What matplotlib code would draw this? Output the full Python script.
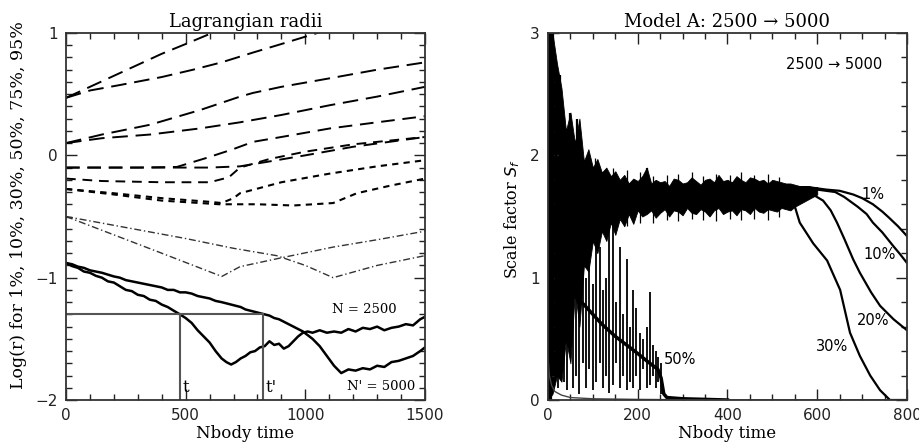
import numpy as np
import matplotlib.pyplot as plt
from matplotlib.ticker import MultipleLocator

# ---- left panel: Lagrangian radii (log r) ----
r95a_t = [0, 100, 200, 300, 400, 500, 610, 700]
r95a = [0.47, 0.56, 0.65, 0.74, 0.83, 0.91, 1.0, 1.07]
r95b_t = [0, 100, 226, 400, 531, 650, 781, 900, 1000, 1100]
r95b = [0.47, 0.53, 0.575, 0.64, 0.70, 0.76, 0.84, 0.91, 0.97, 1.03]
r75a_t = [0, 150, 351, 560, 727, 781, 900, 1103, 1300, 1500]
r75a = [0.10, 0.17, 0.25, 0.37, 0.48, 0.51, 0.56, 0.63, 0.70, 0.76]
r75b_t = [0, 150, 351, 560, 727, 900, 1103, 1300, 1500]
r75b = [0.10, 0.14, 0.17, 0.22, 0.27, 0.33, 0.41, 0.48, 0.56]
r50a_t = [0, 300, 463, 589, 698, 781, 900, 1103, 1300, 1500]
r50a = [-0.10, -0.10, -0.095, -0.02, 0.05, 0.11, 0.15, 0.22, 0.27, 0.32]
r50b_t = [0, 400, 600, 727, 850, 1000, 1200, 1500]
r50b = [-0.10, -0.10, -0.10, -0.09, -0.05, 0.0, 0.07, 0.15]
r30a_t = [0, 150, 400, 600, 680, 727, 850, 1000, 1200, 1500]
r30a = [-0.19, -0.21, -0.22, -0.22, -0.18, -0.10, -0.03, 0.03, 0.09, 0.15]
r30b_t = [0, 200, 400, 600, 650, 700, 727, 900, 1100, 1300, 1500]
r30b = [-0.275, -0.31, -0.35, -0.38, -0.39, -0.35, -0.31, -0.22, -0.15, -0.09, -0.04]
r30c_t = [0, 200, 400, 640, 800, 950, 1116, 1215, 1350, 1500]
r30c = [-0.275, -0.32, -0.37, -0.40, -0.40, -0.41, -0.39, -0.31, -0.25, -0.19]
r10a_t = [0, 200, 400, 651, 727, 894, 1116, 1300, 1500]
r10a = [-0.50, -0.65, -0.80, -0.99, -0.91, -0.84, -0.75, -0.69, -0.62]
r10b_t = [0, 250, 500, 700, 880, 1000, 1116, 1300, 1500]
r10b = [-0.50, -0.59, -0.68, -0.76, -0.82, -0.90, -1.00, -0.90, -0.82]

r1_t = [0, 25, 50, 75, 100, 125, 150, 175, 200, 225, 250, 275, 300, 325, 350,
        375, 400, 425, 450, 476, 500, 525, 550, 575, 600, 625, 650, 670, 690,
        710, 730, 750, 770, 790, 810, 830, 850, 870, 890, 910, 930, 950, 970,
        990, 1010, 1030, 1060, 1090, 1120, 1150, 1180, 1210, 1240, 1270, 1300,
        1330, 1360, 1390, 1420, 1450, 1480, 1500]
r1_n2500 = [-0.88, -0.905, -0.92, -0.95, -0.96, -0.985, -1.0, -1.03, -1.04,
            -1.07, -1.10, -1.11, -1.14, -1.15, -1.18, -1.19, -1.22, -1.24,
            -1.27, -1.30, -1.33, -1.37, -1.43, -1.48, -1.53, -1.60, -1.66,
            -1.69, -1.71, -1.69, -1.66, -1.64, -1.61, -1.60, -1.57, -1.56,
            -1.52, -1.55, -1.54, -1.58, -1.56, -1.52, -1.48, -1.45, -1.44,
            -1.45, -1.43, -1.45, -1.44, -1.45, -1.42, -1.44, -1.41, -1.42,
            -1.40, -1.43, -1.41, -1.40, -1.38, -1.39, -1.34, -1.32]
r1_n5000 = [-0.88, -0.89, -0.91, -0.92, -0.94, -0.95, -0.96, -0.975, -0.99,
            -1.00, -1.02, -1.03, -1.04, -1.05, -1.06, -1.07, -1.08, -1.10,
            -1.10, -1.12, -1.12, -1.13, -1.15, -1.16, -1.17, -1.19, -1.20,
            -1.21, -1.22, -1.23, -1.24, -1.26, -1.27, -1.28, -1.29, -1.30,
            -1.31, -1.33, -1.34, -1.36, -1.38, -1.40, -1.42, -1.44, -1.47,
            -1.50, -1.56, -1.64, -1.72, -1.78, -1.75, -1.76, -1.74, -1.75,
            -1.72, -1.73, -1.69, -1.68, -1.66, -1.64, -1.60, -1.57]

r_cut = -1.3
t_cut = 476
t_cut2 = 823

# ---- right panel: scale factor ----
band_t = list(range(0, 610, 10))
band_hi = [3.0, 3.0, 2.75, 2.55, 2.2, 2.35, 2.1, 2.3, 1.95, 2.05, 1.9, 1.97,
           1.86, 1.9, 1.83, 1.87, 1.8, 1.84, 1.77, 1.81, 1.79, 1.83, 1.9, 1.77,
           1.8, 1.78, 1.79, 1.75, 1.81, 1.8, 1.77, 1.78, 1.82, 1.79, 1.76, 1.8,
           1.81, 1.78, 1.84, 1.79, 1.8, 1.78, 1.83, 1.8, 1.78, 1.82, 1.81, 1.79,
           1.8, 1.77, 1.8, 1.79, 1.78, 1.77, 1.77, 1.76, 1.75, 1.75, 1.75,
           1.74, 1.74]
band_lo = [0.0, 0.05, 0.2, 0.15, 0.5, 0.3, 0.9, 0.6, 1.1, 1.05, 1.3, 1.2,
           1.38, 1.3, 1.45, 1.35, 1.48, 1.42, 1.52, 1.44, 1.55, 1.5, 1.52, 1.55,
           1.49, 1.53, 1.56, 1.5, 1.55, 1.54, 1.51, 1.57, 1.53, 1.52, 1.56,
           1.54, 1.5, 1.55, 1.57, 1.52, 1.54, 1.55, 1.51, 1.56, 1.55, 1.52,
           1.57, 1.54, 1.53, 1.56, 1.55, 1.54, 1.57, 1.56, 1.55, 1.58, 1.6,
           1.62, 1.64, 1.66, 1.68]
bspike_t = [3, 7, 12, 18, 27, 49, 64, 78, 94, 131, 220]
bspike_hi = [3.0, 3.0, 3.0, 2.75, 2.66, 2.35, 2.3, 1.98, 1.9, 1.84, 1.9]
bspike_lo = [0.0, 0.0, 0.2, 0.5, 0.8, 1.0, 1.2, 1.3, 1.4, 1.5, 1.6]
fuzz_t = [105, 145, 175, 205, 235, 265, 290, 320, 345, 375, 405, 430, 460,
          490, 515]
fuzz_hi = [1.98, 1.9, 1.88, 1.86, 1.83, 1.84, 1.85, 1.86, 1.83, 1.85, 1.84,
           1.86, 1.84, 1.85, 1.82]
fuzz_lo = [1.3, 1.4, 1.42, 1.45, 1.45, 1.47, 1.46, 1.48, 1.47, 1.46, 1.48,
           1.47, 1.48, 1.47, 1.5]

s50_t = [15, 20, 30, 40, 50, 60, 80, 100, 120, 150, 175, 200, 220, 245, 252,
         258, 265, 300, 400]
s50 = [1.5, 1.3, 1.15, 1.05, 0.95, 0.85, 0.78, 0.7, 0.62, 0.52, 0.45, 0.38,
       0.32, 0.25, 0.18, 0.05, 0.02, 0.01, 0.0]
spike_t = [22, 28, 35, 42, 48, 55, 62, 70, 77, 85, 92, 100, 108, 115, 122,
           130, 137, 145, 152, 160, 167, 175, 182, 190, 197, 205, 212, 220,
           227, 233, 240, 246, 252]
spike_hi = [1.6, 1.5, 1.7, 1.4, 1.6, 1.2, 1.5, 1.3, 1.5, 1.0, 1.2, 0.95, 1.3,
            1.25, 0.9, 1.0, 1.4, 1.6, 0.8, 1.25, 0.7, 1.15, 0.6, 0.9, 0.75,
            0.55, 0.5, 0.6, 0.88, 0.45, 0.4, 0.35, 0.3]
spike_lo = [0.1, 0.3, 0.15, 0.08, 0.4, 0.1, 0.2, 0.05, 0.3, 0.1, 0.25, 0.08,
            0.15, 0.3, 0.1, 0.2, 0.06, 0.12, 0.3, 0.1, 0.2, 0.08, 0.15, 0.1,
            0.2, 0.08, 0.25, 0.1, 0.12, 0.2, 0.1, 0.15, 0.05]
s0_t = [0, 3, 8, 15, 30, 50, 100, 200, 400, 800]
s0 = [0.35, 0.2, 0.12, 0.07, 0.04, 0.02, 0.01, 0.005, 0.0, 0.0]

s1_t = [540, 580, 620, 650, 680, 700, 724, 745, 760, 780, 800]
s1 = [1.74, 1.74, 1.72, 1.71, 1.68, 1.65, 1.60, 1.54, 1.49, 1.42, 1.34]
s10_t = [540, 600, 640, 660, 690, 710, 724, 745, 769, 785, 800]
s10 = [1.72, 1.72, 1.70, 1.66, 1.58, 1.52, 1.45, 1.37, 1.26, 1.19, 1.12]
s20_t = [540, 590, 613, 630, 644, 660, 680, 695, 720, 740, 770, 800]
s20 = [1.70, 1.68, 1.63, 1.55, 1.45, 1.32, 1.15, 1.04, 0.88, 0.77, 0.66, 0.57]
s30_t = [520, 546, 561, 591, 622, 651, 673, 695, 718, 740, 762, 800]
s30 = [1.65, 1.63, 1.45, 1.28, 1.14, 0.90, 0.55, 0.36, 0.20, 0.08, 0.0, 0.0]

serif = 'DejaVu Serif'
sans = 'DejaVu Sans'

fig = plt.figure(figsize=(9.2, 4.46), dpi=100)
ax1 = fig.add_axes([66/920, 1-400/446, 359/920, 367/446])
ax2 = fig.add_axes([548/920, 1-400/446, 359/920, 367/446])

long_dash = (0, (8, 4))
med_dash = (0, (5, 3.5))
short_dash = (0, (3, 2.5))
dash_dot = (0, (5, 2, 1, 2))

for t, r in [(r95a_t, r95a), (r95b_t, r95b), (r75a_t, r75a), (r75b_t, r75b)]:
    ax1.plot(t, r, color='black', lw=1.4, ls=long_dash)
for t, r in [(r50a_t, r50a), (r50b_t, r50b)]:
    ax1.plot(t, r, color='black', lw=1.4, ls=(0, (7, 4)))
ax1.plot(r30a_t, r30a, color='black', lw=1.4, ls=med_dash)
for t, r in [(r30b_t, r30b), (r30c_t, r30c)]:
    ax1.plot(t, r, color='black', lw=1.5, ls=short_dash)
for t, r in [(r10a_t, r10a), (r10b_t, r10b)]:
    ax1.plot(t, r, color='#333333', lw=1.0, ls=dash_dot)
ax1.plot(r1_t, r1_n2500, color='black', lw=1.8)
ax1.plot(r1_t, r1_n5000, color='black', lw=1.8)

ax1.plot([0, t_cut2], [r_cut, r_cut], color='#555555', lw=1.5)
ax1.plot([t_cut, t_cut], [-2, r_cut], color='#555555', lw=1.5)
ax1.plot([t_cut2, t_cut2], [-2, r_cut], color='#555555', lw=1.5)
ax1.text(t_cut + 12, -1.97, 't', family=serif, fontsize=12, va='bottom')
ax1.text(t_cut2 + 12, -1.97, "t'", family=serif, fontsize=12, va='bottom')
ax1.text(1248, -1.29, 'N = 2500', family=serif, fontsize=9.5, ha='center')
ax1.text(1316, -1.92, "N' = 5000", family=serif, fontsize=9.5, ha='center')

ax1.set_xlim(0, 1500)
ax1.set_ylim(-2, 1)
ax1.xaxis.set_major_locator(MultipleLocator(500))
ax1.xaxis.set_minor_locator(MultipleLocator(100))
ax1.yaxis.set_major_locator(MultipleLocator(1))
ax1.yaxis.set_minor_locator(MultipleLocator(0.1))
ax1.set_title('Lagrangian radii', family=serif, fontsize=13, pad=4)

# right panel
ax2.fill_between(band_t, band_lo, band_hi, color='black', lw=0.6)
ax2.vlines(bspike_t, bspike_lo, bspike_hi, color='black', lw=1.6)
ax2.vlines(fuzz_t, fuzz_lo, fuzz_hi, color='black', lw=0.9)
ax2.vlines(spike_t, spike_lo, spike_hi, color='black', lw=1.3)
ax2.plot(s50_t, s50, color='black', lw=2.5)
ax2.plot(s0_t, s0, color='#444444', lw=1.0)
for t, s in [(s1_t, s1), (s10_t, s10), (s20_t, s20), (s30_t, s30)]:
    ax2.plot(t, s, color='black', lw=1.6)

ax2.text(724, 1.68, '1%', family=sans, fontsize=10.5, ha='center', va='center')
ax2.text(740, 1.19, '10%', family=sans, fontsize=10.5, ha='center', va='center')
ax2.text(724, 0.65, '20%', family=sans, fontsize=10.5, ha='center', va='center')
ax2.text(633, 0.44, '30%', family=sans, fontsize=10.5, ha='center', va='center')
ax2.text(294, 0.33, '50%', family=sans, fontsize=10.5, ha='center', va='center')
ax2.text(637, 2.74, '2500 → 5000', family=sans, fontsize=10.5,
         ha='center', va='center')

ax2.set_xlim(0, 800)
ax2.set_ylim(0, 3)
ax2.xaxis.set_major_locator(MultipleLocator(200))
ax2.xaxis.set_minor_locator(MultipleLocator(50))
ax2.yaxis.set_major_locator(MultipleLocator(1))
ax2.yaxis.set_minor_locator(MultipleLocator(0.2))
ax2.set_title('Model A: 2500 → 5000', family=serif, fontsize=13, pad=4)

for ax in (ax1, ax2):
    ax.tick_params(which='both', direction='in', top=True, right=True,
                   labelsize=11, width=1, colors='#222222')
    ax.tick_params(which='major', length=8, pad=6)
    ax.tick_params(which='minor', length=4)
    for sp in ax.spines.values():
        sp.set_linewidth(1.3)
        sp.set_color('#333333')
    ax.set_xlabel('Nbody time', family=serif, fontsize=12, labelpad=1)

fig.text(19/920, 1-205/446, 'Log(r) for 1%, 10%, 30%, 50%, 75%, 95%',
         family=serif, fontsize=12.5, rotation=90, ha='center', va='center')
fig.text(512/920, 1-219/446, 'Scale factor $S_f$', family=serif,
         fontsize=11.5, rotation=90, ha='center', va='center')

fig.savefig('out.png', dpi=100)
